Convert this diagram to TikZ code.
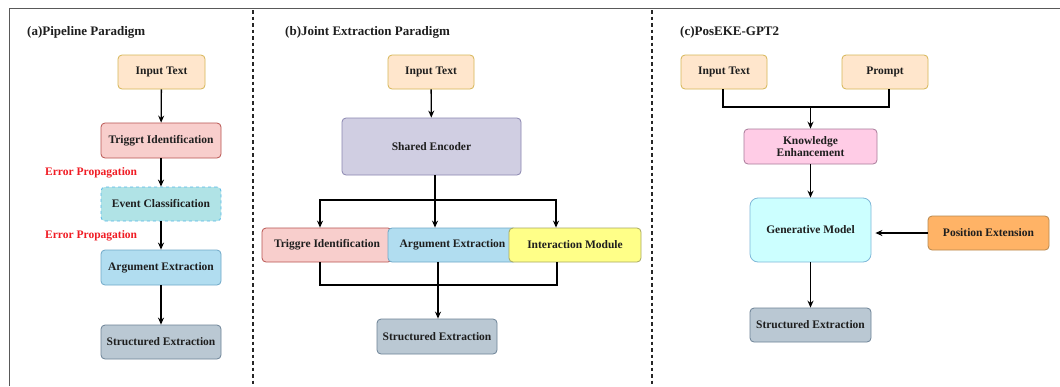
\documentclass[tikz,border=0pt]{standalone}
\usepackage{fontspec}
\setmainfont{Liberation Serif}
\usetikzlibrary{arrows.meta,calc}
\definecolor{orF}{HTML}{FFE6CC}\definecolor{orD}{HTML}{D6B656}
\definecolor{pkF}{HTML}{F8CECC}\definecolor{pkD}{HTML}{B85450}
\definecolor{tlF}{HTML}{B0E3E6}\definecolor{tlD}{HTML}{55B8E8}
\definecolor{blF}{HTML}{B1DDF0}\definecolor{blD}{HTML}{6FA8C8}
\definecolor{gyF}{HTML}{BAC8D3}\definecolor{gyD}{HTML}{6C8296}
\definecolor{puF}{HTML}{D0CEE2}\definecolor{puD}{HTML}{8A86B0}
\definecolor{ywF}{HTML}{FFFF88}\definecolor{ywD}{HTML}{A8A860}
\definecolor{mgF}{HTML}{FFCCE6}\definecolor{mgD}{HTML}{A97C9A}
\definecolor{cyF}{HTML}{CCFFFF}\definecolor{cyD}{HTML}{7FB8D8}
\definecolor{odF}{HTML}{FFB366}\definecolor{odD}{HTML}{B8884F}
\definecolor{txt}{HTML}{1E1E1E}
\definecolor{errc}{HTML}{F01C24}
\tikzset{
  box/.style={rounded corners=4pt, line width=0.8pt, align=center, inner sep=1pt,
    font=\fontsize{11.5}{12.5}\selectfont\bfseries, text=txt},
  ttl/.style={anchor=west, font=\fontsize{13}{14}\selectfont\bfseries, text=txt, inner sep=0pt},
  err/.style={anchor=west, font=\fontsize{11.5}{13}\selectfont\bfseries, text=errc, inner sep=0pt},
  arr/.style={line width=1.3pt, -{Stealth[length=7pt,width=6pt]}, black},
  ln/.style={line width=1.3pt, black},
}
\begin{document}
\begin{tikzpicture}[x=1pt,y=-1pt]
\useasboundingbox (0,0) rectangle (1060,386);
\fill[white] (0,0) rectangle (1060,386);
% frame and dividers
\draw[line width=0.9pt, black!65] (9,386) -- (9,8) -- (1060,8);
\draw[line width=1.4pt, dash pattern=on 3.5pt off 3pt, black!85] (253,10) -- (253,386);
\draw[line width=1.4pt, dash pattern=on 3.5pt off 3pt, black!85] (652,10) -- (652,386);

% ---------- (a) ----------
\node[ttl] (ta) at (27,32) {(a)Pipeline Paradigm};
\node[box, fill=orF, draw=orD, minimum width=87, minimum height=34] (a1) at (161.5,72) {Input Text};
\node[box, fill=pkF, draw=pkD, minimum width=120, minimum height=35] (a2) at (161,140.5) {Triggrt Identification};
\node[box, fill=tlF, draw=tlD, dashed, minimum width=120, minimum height=34] (a3) at (161,204) {Event Classification};
\node[box, fill=blF, draw=blD, minimum width=120, minimum height=35] (a4) at (161,267.5) {Argument Extraction};
\node[box, fill=gyF, draw=gyD, minimum width=120, minimum height=34] (a5) at (161,342) {Structured Extraction};
\node[err] (e1) at (45,173) {Error Propagation};
\node[err] (e2) at (45,236) {Error Propagation};
\draw[arr] (a1) -- (a2);
\draw[arr] (a2) -- (a3);
\draw[arr] (a3) -- (a4);
\draw[arr] (a4) -- (a5);

% ---------- (b) ----------
\node[ttl] (tb) at (285,32) {(b)Joint Extraction Paradigm};
\node[box, fill=orF, draw=orD, minimum width=86, minimum height=34] (b1) at (431,72) {Input Text};
\node[box, fill=puF, draw=puD, minimum width=179, minimum height=57] (b2) at (431.5,146.5) {Shared Encoder};
\node[box, fill=pkF, draw=pkD, minimum width=130, minimum height=34] (b3) at (327,245) {Triggre Identification};
\node[box, fill=blF, draw=blD, minimum width=129, minimum height=34] (b4) at (452.5,245) {Argument Extraction};
\node[box, fill=ywF, draw=ywD, minimum width=132, minimum height=34] (b5) at (575,245) {Interaction Module};
\node[box, fill=gyF, draw=gyD, minimum width=120, minimum height=35] (b6) at (437,336.5) {Structured Extraction};
\coordinate (bj) at (435,200);
\coordinate (mj) at (438,285);
\draw[arr] (b1) -- (b2);
\draw[ln] (b2.south -| bj) -- (bj);
\draw[arr] (bj) -| ([xshift=-7]b3.north);
\draw[arr] (bj) -- (bj |- b4.north);
\draw[arr] (bj) -| ([xshift=-19]b5.north);
\draw[ln] ([xshift=-7]b3.south) |- (mj);
\draw[ln] ([xshift=-18]b5.south) |- (mj);
\draw[ln] (b4.south -| mj) -- (mj);
\draw[arr] (mj) -- (mj |- b6.north);

% ---------- (c) ----------
\node[ttl] (tc) at (680,32) {(c)PosEKE-GPT2};
\node[box, fill=orF, draw=orD, minimum width=86, minimum height=34] (c1) at (724,72) {Input Text};
\node[box, fill=orF, draw=orD, minimum width=86, minimum height=34] (c2) at (885,72) {Prompt};
\node[box, fill=mgF, draw=mgD, minimum width=133, minimum height=35] (c3) at (810.5,146.5) {Knowledge\\Enhancement};
\node[box, fill=cyF, draw=cyD, minimum width=121, minimum height=64, rounded corners=8pt] (c4) at (810.5,230) {Generative Model};
\node[box, fill=odF, draw=odD, minimum width=121, minimum height=34] (c5) at (988.5,233) {Position Extension};
\node[box, fill=gyF, draw=gyD, minimum width=121, minimum height=34] (c6) at (810.5,325) {Structured Extraction};
\coordinate (cj) at (810.5,107);
\draw[ln] ([xshift=-1]c1.south) |- (cj);
\draw[ln] ([xshift=4]c2.south) |- (cj);
\draw[arr] (cj) -- (c3.north);
\draw[arr] (c3) -- (c4);
\draw[arr] (c5.west) -- ([xshift=4]c5.west -| c4.east);
\draw[arr] (c4) -- (c6);
\end{tikzpicture}
\end{document}
